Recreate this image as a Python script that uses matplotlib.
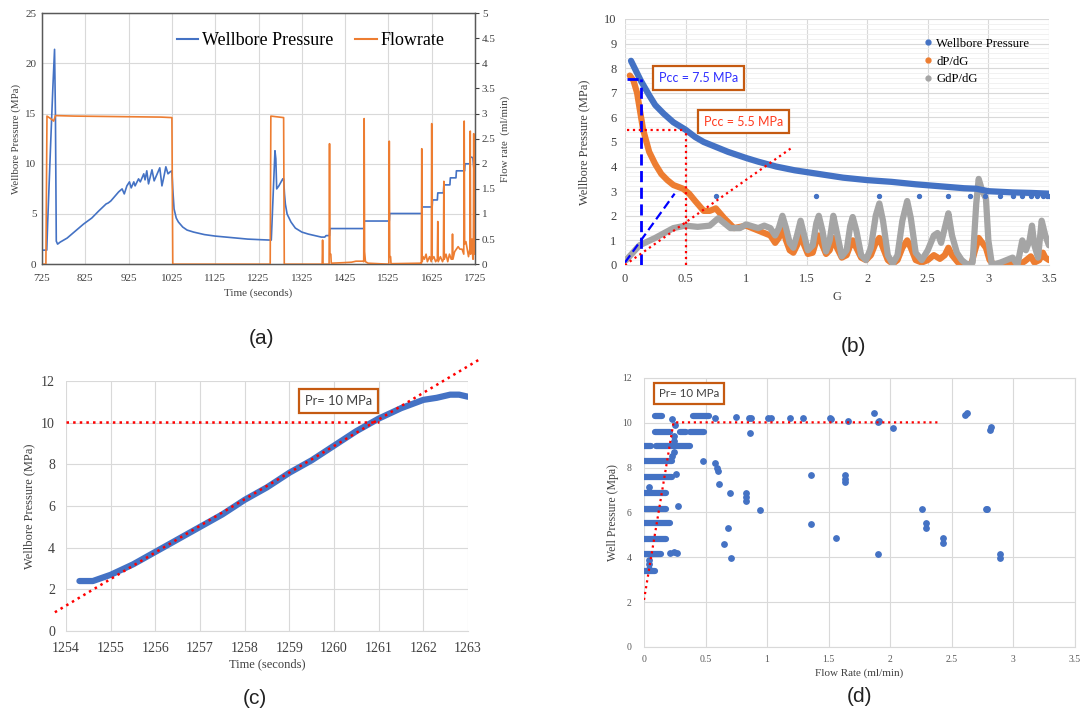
import matplotlib
matplotlib.use("Agg")
import matplotlib.pyplot as plt
from matplotlib.lines import Line2D

plt.rcParams['font.family'] = ['Liberation Serif', 'DejaVu Serif']

BLUE = '#4472C4'
ORANGE = '#ED7D31'
GREY = '#A5A5A5'
BOXC = '#C55A11'
GRIDC = '#D9D9D9'
TXT = '#404040'

# ---- (a) injection history ---------------------------------------------------
a_time = [725, 736, 738, 745, 750, 754, 756, 758, 761, 767, 783, 802, 821, 840, 856,
          873, 878, 884, 894, 902, 910, 915, 921, 927, 931, 937, 940, 948, 952, 960,
          963, 967, 971, 979, 984, 989, 997, 1002, 1006, 1011, 1016, 1021, 1025,
          1027, 1030, 1035, 1040, 1050, 1060, 1075, 1100, 1125, 1150, 1175, 1200,
          1225, 1253, 1254.5, 1263, 1265, 1267, 1272, 1281, 1283, 1285, 1287, 1291,
          1300, 1310, 1325, 1340, 1355, 1370, 1378, 1381, 1389,
          1390, 1468, 1469, 1527, 1528, 1602, 1603, 1626, 1627, 1638, 1639, 1652,
          1653, 1667, 1668, 1681, 1682, 1701, 1702, 1713, 1714, 1720, 1723]
a_press = [1.4, 1.4, 4.0, 12.0, 17.5, 21.4, 15.0, 2.3, 2.0, 2.2, 2.6, 3.3, 4.0, 4.6, 5.3,
           6.0, 6.1, 6.3, 6.8, 7.2, 7.5, 7.0, 7.8, 8.2, 7.6, 8.2, 7.8, 8.5, 8.2, 9.0,
           8.4, 9.3, 8.0, 9.4, 8.3, 8.8, 9.6, 7.8, 8.6, 9.7, 9.0, 9.2, 9.3,
           7.5, 5.5, 4.6, 4.2, 3.7, 3.4, 3.2, 2.95, 2.8, 2.7, 2.6, 2.5,
           2.45, 2.4, 2.4, 11.3, 10.5, 7.5, 7.8, 8.5, 8.5, 7.0, 6.0, 5.0,
           4.2, 3.6, 3.2, 3.0, 2.85, 2.7, 2.7, 2.85, 2.85,
           3.55, 3.55, 4.3, 4.3, 5.05, 5.05, 5.7, 5.7, 6.4, 6.4, 7.1, 7.1,
           7.9, 7.9, 8.6, 8.6, 9.3, 9.3, 10.0, 10.0, 10.7, 10.6, 9.2]

f_time = [725, 734, 736.5, 745, 752, 756, 800, 900, 1000, 1025, 1027, 1252, 1253.5,
          1283, 1284.5, 1372, 1373, 1374, 1388, 1389, 1390, 1392, 1393, 1420, 1440,
          1450, 1466, 1468, 1469, 1470, 1472, 1478, 1526, 1527, 1528, 1530, 1531,
          1600, 1601, 1602, 1603, 1605, 1608, 1612, 1615, 1620, 1624, 1625, 1626,
          1630, 1634, 1638, 1639, 1640, 1645, 1650, 1652, 1653, 1654, 1658, 1662,
          1666, 1670, 1672, 1673, 1674, 1678, 1682, 1686, 1690, 1695, 1699, 1700,
          1701, 1704, 1707, 1710, 1713, 1714, 1715, 1718, 1720, 1721, 1722, 1723, 1725]
f_rate = [0, 0, 2.95, 2.9, 2.85, 2.96, 2.95, 2.94, 2.93, 2.92, 0, 0, 2.95,
          2.92, 0, 0, 0.48, 0, 0, 2.4, 0.2, 0.2, 0.02, 0.03, 0.04,
          0.06, 0.06, 0.05, 2.9, 0.25, 0.05, 0.02, 0.0, 2.45, 0.15, 0.15, 0.01,
          0.02, 0.0, 2.3, 0.05, 0.15, 0.1, 0.2, 0.05, 0.15, 0.05, 2.8, 0.1,
          0.15, 0.05, 0.1, 0.85, 0.05, 0.15, 0.05, 0.1, 1.65, 0.1, 0.2, 0.05,
          0.2, 0.1, 0.1, 0.6, 0.1, 0.25, 0.3, 0.35, 0.3, 0.3, 0.2, 2.85,
          0.4, 0.45, 0.3, 0.15, 0.3, 2.65, 0.2, 0.5, 0.1, 0.1, 2.6, 0.4, 0.2]

# ---- (b) G-function ------------------------------------------------------------
g_wp = [0.05, 0.08, 0.13, 0.2, 0.25, 0.32, 0.4, 0.5, 0.58, 0.65, 0.75, 0.85, 1.0,
        1.1, 1.25, 1.4, 1.6, 1.8, 2.0, 2.2, 2.4, 2.6, 2.8, 2.9, 3.0, 3.2, 3.35, 3.5]
wp = [8.3, 8.0, 7.5, 6.9, 6.5, 6.15, 5.8, 5.5, 5.2, 5.0, 4.8, 4.6, 4.35,
      4.2, 4.0, 3.85, 3.7, 3.55, 3.45, 3.38, 3.28, 3.2, 3.12, 3.1, 3.0, 2.95, 2.93, 2.9]
g_dots = [0.75, 1.58, 2.1, 2.43, 2.67, 2.85, 2.97, 3.1, 3.2, 3.28, 3.35, 3.4, 3.45,
          3.48, 3.5]
dots_val = [2.8] * len(g_dots)

g_dp = [0.04, 0.07, 0.1, 0.12, 0.15, 0.2, 0.25, 0.3, 0.35, 0.4, 0.48, 0.53, 0.58,
        0.65, 0.7, 0.75, 0.82, 0.9, 1.0, 1.1, 1.2, 1.24, 1.27, 1.3, 1.33, 1.36,
        1.39, 1.42, 1.45, 1.48, 1.51, 1.55, 1.58, 1.6, 1.63, 1.66, 1.69, 1.72,
        1.75, 1.79, 1.83, 1.86, 1.88, 1.91, 1.95, 1.99, 2.03, 2.07, 2.1, 2.13,
        2.17, 2.21, 2.25, 2.29, 2.33, 2.36, 2.4, 2.45, 2.5, 2.55, 2.6, 2.64,
        2.67, 2.7, 2.75, 2.8, 2.86, 2.89, 2.92, 2.95, 2.98, 3.01, 3.05, 3.15,
        3.2, 3.25, 3.3, 3.35, 3.38, 3.42, 3.45, 3.47, 3.5]
dpdg = [7.7, 7.5, 7.0, 6.4, 5.5, 4.6, 4.1, 3.7, 3.45, 3.25, 3.1, 2.9, 2.6,
        2.2, 2.2, 2.3, 1.9, 1.5, 1.6, 1.4, 1.2, 0.9, 1.1, 1.5, 1.0, 0.6,
        0.5, 0.8, 1.2, 0.8, 0.45, 0.5, 1.0, 1.2, 0.8, 0.45, 0.6, 1.1,
        0.7, 0.3, 0.4, 0.8, 1.0, 0.7, 0.3, 0.2, 0.4, 0.9, 1.1, 0.7,
        0.2, 0.05, 0.2, 0.7, 1.0, 0.7, 0.2, 0.1, 0.2, 0.4, 0.25, 0.4,
        0.7, 0.4, 0.1, 0.0, 0.05, 0.6, 1.1, 0.9, 0.7, 0.2, 0.0, 0.05,
        0.1, 0.0, 0.15, 0.35, 0.1, 0.2, 0.5, 0.3, 0.2]

g_gdp = [0.01, 0.12, 0.25, 0.4, 0.5, 0.6, 0.7, 0.77, 0.87, 0.95, 1.0, 1.1, 1.15,
         1.2, 1.24, 1.27, 1.3, 1.33, 1.36, 1.39, 1.42, 1.45, 1.48, 1.51, 1.55,
         1.58, 1.6, 1.63, 1.66, 1.69, 1.72, 1.75, 1.79, 1.83, 1.86, 1.88, 1.91,
         1.95, 1.99, 2.03, 2.07, 2.1, 2.13, 2.17, 2.21, 2.25, 2.29, 2.33, 2.36,
         2.4, 2.45, 2.5, 2.55, 2.58, 2.61, 2.64, 2.67, 2.7, 2.74, 2.78, 2.83,
         2.87, 2.9, 2.92, 2.95, 2.98, 3.0, 3.03, 3.1, 3.15, 3.2, 3.24, 3.28,
         3.31, 3.34, 3.36, 3.38, 3.41, 3.44, 3.47, 3.5]
gdpdg = [0.2, 0.8, 1.1, 1.5, 1.6, 1.55, 1.6, 1.9, 1.5, 1.5, 1.65, 1.5, 1.6,
         1.5, 1.2, 1.5, 2.0, 1.5, 0.9, 0.7, 1.2, 1.8, 1.2, 0.6, 0.8,
         1.7, 2.0, 1.4, 0.55, 1.0, 2.0, 1.3, 0.35, 0.6, 1.6, 1.95, 1.4,
         0.4, 0.2, 0.7, 2.0, 2.5, 1.8, 0.4, 0.05, 0.4, 1.8, 2.6, 1.9,
         0.5, 0.2, 0.6, 1.2, 1.3, 0.9, 1.5, 2.1, 1.2, 0.5, 0.2, 0.0,
         0.1, 2.5, 3.5, 3.0, 2.7, 1.0, 0.0, 0.1, 0.2, 0.3, 0.0, 1.0,
         0.6, 1.0, 1.6, 0.8, 0.3, 1.8, 1.2, 0.8]

# ---- (c) reopening -------------------------------------------------------------
c_time = [1254.3, 1254.6, 1255.0, 1255.5, 1256.0, 1256.5, 1257.0, 1257.5, 1258.0,
          1258.5, 1259.0, 1259.5, 1260.0, 1260.5, 1261.0, 1261.5, 1262.0, 1262.3,
          1262.6, 1262.8, 1263.0]
c_press = [2.4, 2.4, 2.7, 3.2, 3.8, 4.4, 5.0, 5.6, 6.3, 6.9, 7.6, 8.2, 8.9, 9.6,
           10.2, 10.7, 11.1, 11.2, 11.35, 11.35, 11.25]
c_fit_t = [1253.75, 1263.3]
c_fit_p = [0.9, 13.1]

# ---- (d) pressure vs flow rate -------------------------------------------------
band_p = [3.38, 4.13, 4.83, 5.51, 6.17, 6.86, 7.6, 8.3, 8.97, 8.97, 9.61, 9.61,
          9.61, 10.31, 10.31]
band_x0 = [0.0, 0.0, 0.0, 0.0, 0.0, 0.0, 0.0, 0.0, 0.0, 0.1, 0.09, 0.29, 0.37, 0.09, 0.4]
band_x1 = [0.09, 0.14, 0.18, 0.21, 0.18, 0.18, 0.23, 0.23, 0.06, 0.37, 0.21, 0.34,
           0.49, 0.15, 0.53]
d_rate = [0.04, 0.04, 0.04, 0.21, 0.24, 0.27, 0.28, 0.04, 0.26, 0.23, 0.24, 0.24,
          0.24, 0.25, 0.23,
          0.58, 0.75, 0.85, 0.87, 1.01, 1.03, 1.19, 1.29, 1.51, 1.52, 1.66, 1.87,
          1.9, 1.91, 2.02, 2.61, 2.62, 2.81, 2.82,
          0.48, 0.58, 0.59, 0.6, 0.61, 0.7, 0.68, 0.65, 0.71, 0.83, 0.83, 0.83,
          0.86, 0.94, 1.36, 1.36, 1.56, 1.63, 1.63, 1.63, 1.9, 2.26, 2.29, 2.29,
          2.43, 2.43, 2.78, 2.79, 2.89, 2.89]
d_press = [3.5, 3.7, 3.9, 4.2, 4.25, 4.2, 6.3, 7.15, 7.7, 8.5, 8.7, 9.2, 9.4, 9.9, 10.15,
           10.22, 10.25, 10.2, 10.2, 10.2, 10.2, 10.2, 10.22, 10.2, 10.15, 10.1, 10.45,
           10.05, 10.1, 9.75, 10.35, 10.45, 9.7, 9.8,
           8.3, 8.2, 8.0, 7.85, 7.25, 6.85, 5.3, 4.6, 3.95, 6.5, 6.7, 6.85,
           9.55, 6.1, 7.65, 5.5, 4.85, 7.35, 7.5, 7.65, 4.15, 6.15, 5.3, 5.55,
           4.65, 4.85, 6.15, 6.15, 3.95, 4.15]
d_fit_x = [0.0, 0.24, 2.41]
d_fit_y = [2.1, 10.02, 10.02]

fig = plt.figure(figsize=(10.88, 7.16), dpi=100)


def excel_box(ax, x, y, s, color, size, **kw):
    ax.text(x, y, s, color=color, fontsize=size, family=['Lato', 'DejaVu Sans'],
            va='center', ha='left',
            bbox=dict(boxstyle='square,pad=0.45', fc='white', ec=BOXC, lw=1.6), **kw)


# ================= (a) =================
axa = fig.add_axes([0.0386, 0.631, 0.398, 0.3506])
axa.plot(a_time, a_press, color=BLUE, lw=1.2, zorder=3)
axa.set_xlim(725, 1725)
axa.set_ylim(0, 25)
axa.set_xticks(range(725, 1726, 100))
axa.set_yticks(range(0, 26, 5))
axa.grid(True, color=GRIDC, lw=0.8)
axa.set_axisbelow(True)
axa.tick_params(labelsize=8, colors=TXT, length=0, pad=4)
axa.tick_params(axis='x', pad=7)
axa.set_xlabel('Time (seconds)', fontsize=8, color=TXT, labelpad=4)
axa.set_ylabel('Wellbore Pressure (MPa)', fontsize=7.8, color=TXT, labelpad=3)
for sp in axa.spines.values():
    sp.set_color('#595959')
    sp.set_linewidth(1.0)
axb2 = axa.twinx()
axb2.plot(f_time, f_rate, color=ORANGE, lw=1.2, zorder=2)
axb2.set_ylim(0, 5)
axb2.set_yticks([0, 0.5, 1, 1.5, 2, 2.5, 3, 3.5, 4, 4.5, 5])
axb2.set_yticklabels(['0', '0.5', '1', '1.5', '2', '2.5', '3', '3.5', '4', '4.5', '5'])
axb2.tick_params(labelsize=8, colors=TXT, length=3, pad=2)
axb2.set_ylabel('Flow rate  (ml/min)', fontsize=7.8, color=TXT, labelpad=3)
for sp in axb2.spines.values():
    sp.set_color('#595959')
h_a = [Line2D([], [], color=BLUE, lw=1.5), Line2D([], [], color=ORANGE, lw=1.5)]
axa.legend(h_a, ['Wellbore Pressure', 'Flowrate'], loc='upper center',
           bbox_to_anchor=(0.62, 0.99), ncol=2, frameon=False, fontsize=13,
           handlelength=1.2, handletextpad=0.2, columnspacing=1.2)

# ================= (b) =================
axb = fig.add_axes([0.5744, 0.6299, 0.3897, 0.3436])
axb.plot(g_wp, wp, color=BLUE, lw=4.5, solid_capstyle='round', zorder=3)
axb.scatter(g_dots, dots_val, color=BLUE, s=8, zorder=3)
axb.plot(g_dp, dpdg, color=ORANGE, lw=4.5, solid_capstyle='round',
         solid_joinstyle='round', zorder=2)
axb.plot(g_gdp, gdpdg, color=GREY, lw=4.5, solid_capstyle='round',
         solid_joinstyle='round', zorder=2.5)
axb.plot([0.02, 0.13], [7.55, 7.55], color='#0000FF', lw=2, ls=(0, (4, 2)), zorder=4)
axb.plot([0.13, 0.13], [0, 7.55], color='#0000FF', lw=2, ls=(0, (4, 2)), zorder=4)
axb.plot([0.0, 0.41], [0.1, 2.9], color='#0000FF', lw=1.6, ls=(0, (4, 2)), zorder=4)
axb.plot([0.02, 0.5], [5.5, 5.5], color='#FF0000', lw=1.6, ls=':', zorder=4)
axb.plot([0.5, 0.5], [0, 5.5], color='#FF0000', lw=1.6, ls=':', zorder=4)
axb.plot([0.0, 1.39], [0.0, 4.81], color='#FF0000', lw=1.6, ls=':', zorder=4)
excel_box(axb, 0.28, 7.6, 'Pcc = 7.5 MPa', '#2F2FFF', 9, zorder=5)
excel_box(axb, 0.65, 5.83, 'Pcc = 5.5 MPa', '#FF3B1F', 9, zorder=5)
axb.set_xlim(0, 3.5)
axb.set_ylim(0, 10)
axb.set_xticks([0, 0.5, 1, 1.5, 2, 2.5, 3, 3.5])
axb.set_xticklabels(['0', '0.5', '1', '1.5', '2', '2.5', '3', '3.5'])
axb.set_yticks(range(0, 11))
axb.set_yticks([i * 0.2 for i in range(51)], minor=True)
axb.grid(True, which='major', color=GRIDC, lw=0.8)
axb.grid(True, which='minor', axis='y', color='#EFEFEF', lw=0.6)
axb.set_axisbelow(True)
axb.tick_params(which='both', labelsize=9, colors=TXT, length=0, pad=6)
axb.set_xlabel('G', fontsize=9, color=TXT, labelpad=4)
axb.set_ylabel('Wellbore Pressure (MPa)', fontsize=9, color=TXT, labelpad=10)
for k, sp in axb.spines.items():
    sp.set_visible(k == 'bottom')
axb.spines['bottom'].set_color(GRIDC)
h_b = [Line2D([], [], color=c, marker='o', ls='', ms=3.5) for c in (BLUE, ORANGE, GREY)]
axb.legend(h_b, ['Wellbore Pressure', 'dP/dG', 'GdP/dG'], loc='upper left',
           bbox_to_anchor=(0.68, 0.97), frameon=False, fontsize=9.2,
           handlelength=0.5, handletextpad=0.4, labelspacing=0.45)

# ================= (c) =================
axc = fig.add_axes([0.0607, 0.1187, 0.3695, 0.349])
axc.plot(c_time, c_press, color=BLUE, lw=4.5, solid_capstyle='round', zorder=3)
axc.plot(c_fit_t, c_fit_p, color='#FF0000', lw=1.8, ls=':', zorder=4, clip_on=False)
axc.plot([1254.0, 1261.0], [10.05, 10.05], color='#FF0000', lw=1.8, ls=':', zorder=4)
excel_box(axc, 1259.35, 11.05, 'Pr= 10 MPa', TXT, 9.3, zorder=5)
axc.set_xlim(1254, 1263)
axc.set_ylim(0, 12)
axc.set_xticks(range(1254, 1264))
axc.set_yticks(range(0, 13, 2))
axc.grid(True, color=GRIDC, lw=0.8)
axc.set_axisbelow(True)
axc.tick_params(labelsize=10, colors=TXT, length=0, pad=8)
axc.set_xlabel('Time (seconds)', fontsize=9, color=TXT, labelpad=2)
axc.set_ylabel('Wellbore Pressure (MPa)', fontsize=9, color=TXT, labelpad=4)
for k, sp in axc.spines.items():
    sp.set_visible(k == 'bottom')
axc.spines['bottom'].set_color(GRIDC)

# ================= (d) =================
axd = fig.add_axes([0.5919, 0.0964, 0.396, 0.3757])
axd.hlines(band_p, band_x0, band_x1, color=BLUE, lw=4.5, capstyle='round', zorder=3)
axd.scatter(d_rate, d_press, color=BLUE, s=15, zorder=3)
axd.plot(d_fit_x, d_fit_y, color='#FF0000', lw=1.6, ls=':', zorder=4)
excel_box(axd, 0.12, 11.32, 'Pr= 10 MPa', TXT, 8.3, zorder=5)
axd.set_xlim(0, 3.5)
axd.set_ylim(0, 12)
axd.set_xticks([0, 0.5, 1, 1.5, 2, 2.5, 3, 3.5])
axd.set_xticklabels(['0', '0.5', '1', '1.5', '2', '2.5', '3', '3.5'])
axd.set_yticks(range(0, 13, 2))
axd.grid(True, color=GRIDC, lw=0.8)
axd.set_axisbelow(True)
axd.tick_params(labelsize=7, colors='#595959', length=0, pad=6)
axd.tick_params(axis='y', pad=9)
axd.set_xlabel('Flow Rate (ml/min)', fontsize=8, color=TXT, labelpad=3)
axd.set_ylabel('Well Pressure (Mpa)', fontsize=8.5, color=TXT, labelpad=2)
for k, sp in axd.spines.items():
    sp.set_visible(k in ('bottom', 'right', 'top'))
    sp.set_color(GRIDC)

# captions
cap = dict(fontsize=15, family=['Liberation Sans', 'DejaVu Sans'], ha='center', va='center',
           color='#222222')
fig.text(261 / 1088, 1 - 339 / 716, '(a)', **cap)
fig.text(853 / 1088, 1 - 346 / 716, '(b)', **cap)
fig.text(255 / 1088, 1 - 699 / 716, '(c)', **cap)
fig.text(860 / 1088, 1 - 697 / 716, '(d)', **cap)

fig.savefig('out.png', dpi=100)
